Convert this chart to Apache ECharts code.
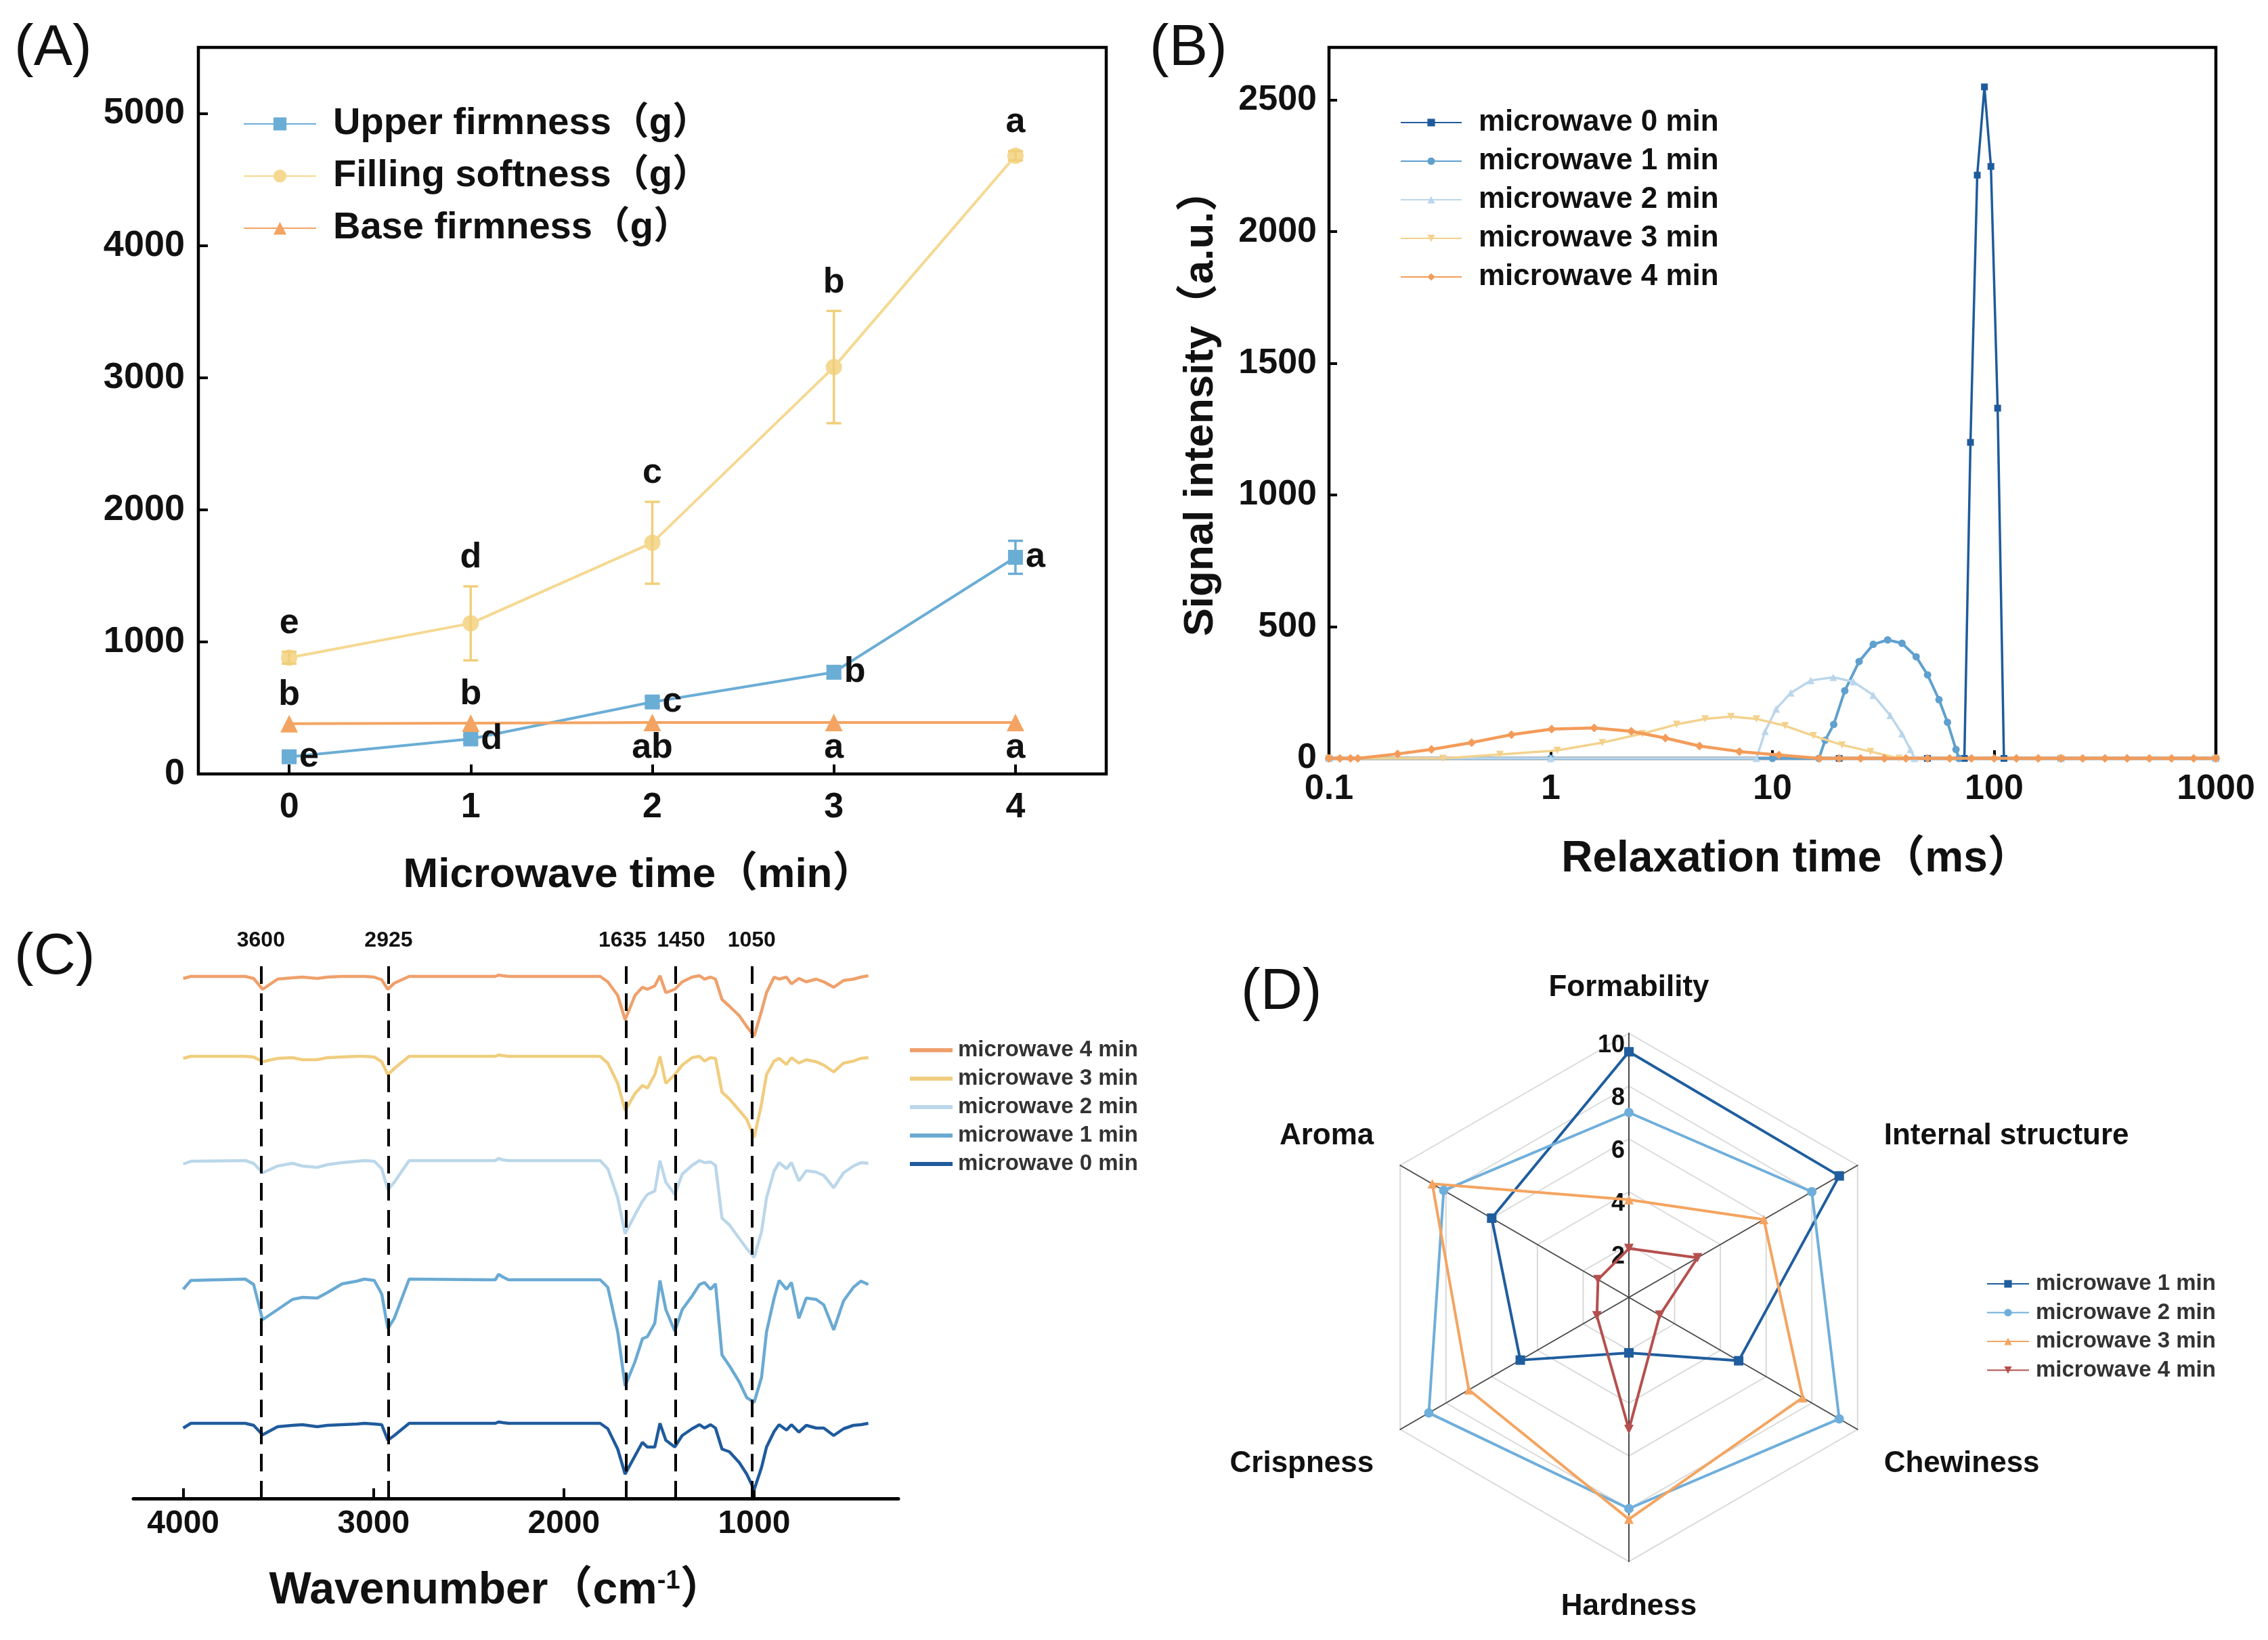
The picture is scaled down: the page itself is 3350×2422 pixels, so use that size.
<!DOCTYPE html>
<html><head><meta charset="utf-8">
<script src="https://cdn.jsdelivr.net/npm/echarts@6/dist/echarts.min.js"></script>
<style>html,body{margin:0;padding:0;background:#fff}#c{width:3350px;height:2422px}</style>
</head><body><div id="c"></div>
<script>
// ---------------- Panel A data ----------------
const aTimes = ['0', '1', '2', '3', '4'];
const aNames = ['Upper firmness（g）', 'Filling softness（g）', 'Base firmness（g）'];
const aUpper = [130, 265, 545, 770, 1640];
const aUpperErr = [25, 30, 35, 45, 125];
const aUpperLetters = ['e', 'd', 'c', 'b', 'a'];
const aFilling = [880, 1140, 1750, 3080, 4680];
const aFillingErr = [45, 280, 310, 425, 35];
const aFillingLetters = ['e', 'd', 'c', 'b', 'a'];
const aBase = [380, 385, 390, 390, 390];
const aBaseErr = [0, 0, 0, 0, 0];
const aBaseLetters = ['b', 'b', 'ab', 'a', 'a'];

// ---------------- Panel B data (relaxation time ms, signal) ----------------
const bNames = ['microwave 0 min', 'microwave 1 min', 'microwave 2 min', 'microwave 3 min', 'microwave 4 min'];
const b0 = [[0.1, 0], [20, 0], [50, 0], [73.4, 0], [78.2, 1200], [83.9, 2215], [90.4, 2550], [96.7, 2248], [103.7, 1330], [110.7, 0], [200, 0], [1000, 0]];
const b1 = [[0.1, 0], [1, 0], [10, 0], [16.2, 0], [17.3, 69], [18.9, 129], [21.2, 257], [24.6, 368], [28.5, 433], [33.1, 450], [38.4, 437], [44.5, 386], [50.1, 317], [56.4, 223], [61.6, 137], [67.3, 34], [69.3, 0], [200, 0], [1000, 0]];
const b2 = [[0.1, 0], [1, 0], [8.47, 0], [9.27, 103], [10.4, 188], [12.1, 249], [14.9, 296], [18.8, 308], [23.2, 291], [28.5, 240], [34.0, 163], [38.4, 94], [41.9, 34], [43.7, 0], [200, 0], [1000, 0]];
const b3 = [[0.1, 0], [0.327, 0], [0.59, 15], [1.07, 30], [1.71, 60], [2.59, 94], [3.70, 129], [4.97, 150], [6.50, 159], [8.47, 150], [11.4, 124], [15.3, 86], [20.6, 51], [27.7, 26], [37.2, 0], [200, 0], [1000, 0]];
const b4 = [[0.1, 0], [0.112, 0], [0.125, 0], [0.135, 0], [0.204, 17], [0.29, 34], [0.44, 60], [0.665, 90], [1.01, 111], [1.57, 116], [2.31, 103], [3.29, 77], [4.69, 47], [7.1, 26], [10.7, 13], [16.3, 0],
  [20, 0], [25, 0], [32, 0], [40, 0], [50, 0], [63, 0], [79, 0], [100, 0], [126, 0], [158, 0], [200, 0], [251, 0], [316, 0], [398, 0], [501, 0], [631, 0], [794, 0], [1000, 0]];

// ---------------- Panel C data (FTIR) ----------------
const cNames = ['microwave 4 min', 'microwave 3 min', 'microwave 2 min', 'microwave 1 min', 'microwave 0 min'];
const cTickValues = [1000, 2000, 3000, 4000];
const cPeakPos = [3592, 2921, 1674, 1413, 1013];
const cPeakLabels = ['3600', '2925', '1635', '1450', '1050'];
const cWn = [4000, 3960, 3674, 3630, 3583, 3504, 3426, 3374, 3296, 3243, 3165, 3087, 3048, 2996, 2957, 2925, 2891, 2813, 2409, 2360,
  2343, 2320, 2291, 1809, 1769, 1717, 1678, 1626, 1587, 1561, 1522, 1495, 1464, 1417, 1378, 1326, 1287, 1261, 1229, 1203,
  1169, 1130, 1078, 1039, 1000, 961, 935, 895, 869, 830, 804, 765, 726, 674, 634, 582, 530, 478, 439, 400];
// absorption depth below each trace's baseline
const cDepth0 = [7,0,0,3,17, 5,3,2,5,3, 2,1,0,1,2, 25,18,0,0,0, -2,-1,0,0,8, 38,75,48,28,35, 35,0,25,35,18, 8,2,7,2,7, 38,42,58,75,98, 65,35,12,2,10, 2,13,3,7,7, 18,8,3,2,0];
const cDepth1 = [15,2,0,8,60, 45,30,27,28,20, 7,3,0,2,22, 73,58,0,1,1, -7,-3,1,1,12, 78,158,122,88,85, 65,2,45,77,45, 25,8,5,15,7, 112,128,152,175,182, 145,78,28,2,15, 5,58,28,30,38, 75,32,12,3,8];
const cDepth2 = [5,1,0,4,18, 8,4,8,10,6, 3,1,0,1,12, 43,32,0,0,0, -3,-1,0,0,12, 55,108,80,60,50, 45,0,32,50,20, 7,0,3,2,7, 85,95,115,130,143, 105,55,15,3,12, 3,30,15,17,22, 40,18,8,3,4];
const cDepth3 = [3,0,0,1,8, 3,2,5,5,2, 1,0,0,1,8, 27,18,0,0,0, -2,-1,0,0,10, 40,80,55,43,47, 27,0,40,27,13, 2,0,7,2,3, 53,63,80,93,120, 70,27,7,3,12, 2,10,5,8,13, 23,10,7,3,2];
const cDepth4 = [3,0,0,3,19, 4,2,1,3,1, 0,0,0,1,5, 19,10,0,0,0, -2,-1,0,0,8, 28,64,28,16,19, 14,-1,24,19,8, 1,-1,4,1,4, 34,44,58,74,88, 51,24,1,4,1, 11,3,8,4,8, 16,6,4,1,-1];
const cOffsets = [111, 324, 499, 653, 771]; // 0,1,2,3,4 min

// ---------------- Panel D data (sensory radar) ----------------
const dIndicators = ['Formability', 'Aroma', 'Crispness', 'Hardness', 'Chewiness', 'Internal structure'];
const dNames = ['microwave 1 min', 'microwave 2 min', 'microwave 3 min', 'microwave 4 min'];
const d1 = [9.3, 6.0, 4.75, 2.1, 4.8, 9.2];
const d2 = [7.0, 8.1, 8.75, 8.0, 9.2, 8.0];
const d3 = [3.7, 8.6, 7.0, 8.4, 7.6, 5.9];
const d4 = [1.85, 1.35, 1.4, 5.0, 1.35, 3.0];

// ---------------- styles ----------------
const FF = "'Liberation Sans', Arial, 'Noto Sans CJK SC', sans-serif";
const TXT = '#111';
const colA = ['#6AADD5', '#F5D891', '#F3A462'];
const colB = ['#1F5B9C', '#5FA0CE', '#BBD6EB', '#F3D28E', '#F39C5A'];
const colC = { 0: '#1F5B9C', 1: '#6AAAD3', 2: '#BBD7EA', 3: '#F0CD7E', 4: '#EFA06B' };
const colD = ['#1F5D9E', '#6FAEDA', '#F4A460', '#B5504E'];
const downTri = 'path://M0,0L10,0L5,9Z';

function errSeries(vals, errs, letters, places, color) {
  return {
    type: 'custom', xAxisIndex: 0, yAxisIndex: 0, z: 4, silent: true,
    data: vals.map((v, i) => [i, v, errs[i]]),
    renderItem: function (params, api) {
      const i = api.value(0), v = api.value(1), e = api.value(2);
      const idx = params.dataIndex;
      const p = api.coord([i, v]);
      const top = api.coord([i, v + e]);
      const bot = api.coord([i, v - e]);
      const cap = 11;
      const ch = [];
      if (e > 0) {
        const st = { stroke: color, lineWidth: 3.5 };
        ch.push({ type: 'line', shape: { x1: p[0], y1: top[1], x2: p[0], y2: bot[1] }, style: st });
        ch.push({ type: 'line', shape: { x1: p[0] - cap, y1: top[1], x2: p[0] + cap, y2: top[1] }, style: st });
        ch.push({ type: 'line', shape: { x1: p[0] - cap, y1: bot[1], x2: p[0] + cap, y2: bot[1] }, style: st });
      }
      const pl = places[idx];
      let tx = p[0], ty = p[1], al = 'center';
      if (pl === 'above') { ty = top[1] - 42; }
      else if (pl === 'right') { tx = p[0] + 15; al = 'left'; }
      else if (pl === 'top') { ty = p[1] - 42; }
      else { ty = p[1] + 38; }
      ch.push({ type: 'text', style: { text: letters[idx], x: tx, y: ty, align: al, verticalAlign: 'middle', fontSize: 52, fontWeight: 'bold', fontFamily: FF, fill: TXT } });
      return { type: 'group', children: ch };
    }
  };
}

const chart = echarts.init(document.getElementById('c'), null, { renderer: 'canvas', width: 3350, height: 2422 });

const legendFmt = n => n.replace(/^[CD]\|/, '');
const boldTxt = (s, extra) => Object.assign({ fontSize: s, fontWeight: 'bold', color: TXT, fontFamily: FF }, extra || {});

const cSeries = [0, 1, 2, 3, 4].map(k => {
  const depth = [cDepth0, cDepth1, cDepth2, cDepth3, cDepth4][k];
  const s = {
    type: 'line', name: 'C|microwave ' + k + ' min', xAxisIndex: 2, yAxisIndex: 2,
    data: cWn.map((w, i) => [w, cOffsets[k] - depth[i]]),
    symbol: 'none', lineStyle: { width: 4.5, color: colC[k] }, itemStyle: { color: colC[k] }, z: 3, silent: true
  };
  if (k === 0) {
    const labOff = [0, 0, -5, 8, 0];
    s.markLine = {
      silent: true, symbol: ['none', 'none'], animation: false,
      lineStyle: { color: '#000', width: 4, type: [26, 14] },
      label: { show: true, position: 'end', formatter: p => p.name, distance: 8, fontSize: 32, fontWeight: 'bold', color: TXT, fontFamily: FF },
      data: cPeakPos.map((x, i) => ({ xAxis: x, name: cPeakLabels[i], label: { offset: [labOff[i], 0] } }))
    };
  }
  return s;
});

const bSeries = [b0, b1, b2, b3, b4].map((d, k) => ({
  type: 'line', name: bNames[k], xAxisIndex: 1, yAxisIndex: 1, data: d,
  symbol: ['rect', 'circle', 'triangle', downTri, 'diamond'][k],
  symbolSize: [10, 11, 11, 11, 13][k],
  showAllSymbol: true,
  lineStyle: { width: [3.5, 4, 3.5, 3.5, 4.5][k], color: colB[k] }, itemStyle: { color: colB[k] }, z: 3 + k
}));

const dSym = ['rect', 'circle', 'triangle', downTri];
const dDummy = dNames.map((n, k) => ({
  type: 'line', name: 'D|' + n, xAxisIndex: 1, yAxisIndex: 1, data: [],
  symbol: dSym[k], symbolSize: 14, lineStyle: { width: 4, color: colD[k] }, itemStyle: { color: colD[k] }
}));

// radar axis-name nudge: upper side names sit a little higher, lower side ones lower
const dNameTag = { 'Aroma': 'up', 'Internal structure': 'up', 'Crispness': 'dn', 'Chewiness': 'dn' };

const option = {
  animation: false,
  backgroundColor: '#ffffff',
  textStyle: { fontFamily: FF },
  graphic: [
    { type: 'text', x: 21, y: 72, style: { text: '(A)', fontSize: 86, fontFamily: FF, fill: TXT, verticalAlign: 'middle' } },
    { type: 'text', x: 1698, y: 72, style: { text: '(B)', fontSize: 86, fontFamily: FF, fill: TXT, verticalAlign: 'middle' } },
    { type: 'text', x: 21, y: 1414, style: { text: '(C)', fontSize: 86, fontFamily: FF, fill: TXT, verticalAlign: 'middle' } },
    { type: 'text', x: 1833, y: 1466, style: { text: '(D)', fontSize: 86, fontFamily: FF, fill: TXT, verticalAlign: 'middle' } }
  ],
  grid: [
    { left: 293, top: 70, width: 1341, height: 1073, show: true, borderColor: '#000', borderWidth: 4.5, backgroundColor: 'transparent' },
    { left: 1963, top: 70, width: 1310, height: 1050, show: true, borderColor: '#000', borderWidth: 4.5, backgroundColor: 'transparent' },
    { left: 197, top: 1413, width: 1130, height: 800 }
  ],
  xAxis: [
    { gridIndex: 0, type: 'category', data: aTimes, boundaryGap: true,
      axisLine: { show: false }, axisTick: { show: true, alignWithLabel: true, inside: true, length: 14, lineStyle: { color: '#000', width: 4 } },
      axisLabel: boldTxt(52, { margin: 24 }), splitLine: { show: false },
      name: 'Microwave time（min）', nameLocation: 'middle', nameGap: 119, nameTextStyle: boldTxt(62, { padding: [0, 40, 0, 0] }) },
    { gridIndex: 1, type: 'log', logBase: 10, min: 0.1, max: 1000,
      axisLine: { show: false }, axisTick: { show: true, inside: true, length: 12, lineStyle: { color: '#000', width: 4 } },
      minorTick: { show: false }, splitLine: { show: false },
      axisLabel: boldTxt(52, { margin: 20, formatter: v => String(+(+v).toPrecision(3)) }),
      name: 'Relaxation time（ms）', nameLocation: 'middle', nameGap: 117, nameTextStyle: boldTxt(64, { padding: [0, 0, 0, 70] }) },
    { gridIndex: 2, type: 'value', inverse: true, min: 242, max: 4262,
      axisLine: { show: true, lineStyle: { color: '#000', width: 5 } },
      axisTick: { show: true, inside: true, length: 15, customValues: cTickValues, lineStyle: { color: '#000', width: 4 } },
      axisLabel: boldTxt(48, { margin: 14, customValues: cTickValues, formatter: v => String(v) }), splitLine: { show: false },
      name: '{a|Wavenumber（cm}{s|-1}{a|）}', nameLocation: 'middle', nameGap: 104,
      nameTextStyle: { padding: [0, 56, 0, 0], rich: { a: boldTxt(66), s: boldTxt(38, { padding: [0, 0, 28, 0] }) } } }
  ],
  yAxis: [
    { gridIndex: 0, type: 'value', min: 0, max: 5500, interval: 1000,
      axisLine: { show: false }, axisTick: { show: true, inside: true, length: 14, lineStyle: { color: '#000', width: 4 } },
      axisLabel: boldTxt(54, { margin: 20, showMaxLabel: false, formatter: v => (v % 1000 === 0 ? String(v) : '') }), splitLine: { show: false } },
    { gridIndex: 1, type: 'value', min: 0, max: 2700, interval: 500,
      axisLine: { show: false }, axisTick: { show: true, inside: true, length: 12, lineStyle: { color: '#000', width: 4 } },
      axisLabel: boldTxt(52, { margin: 18, showMaxLabel: false, formatter: v => (v % 500 === 0 ? String(v) : '') }), splitLine: { show: false },
      name: 'Signal intensity（a.u.）', nameLocation: 'middle', nameGap: 158, nameTextStyle: boldTxt(62) },
    { gridIndex: 2, type: 'value', min: 0, max: 800, show: false }
  ],
  radar: {
    center: [2406, 1916], radius: 390, startAngle: 90, splitNumber: 5, shape: 'polygon',
    indicator: dIndicators.map((n, i) => {
      const o = { name: n, min: 0, max: 10 };
      if (i === 0) o.axisLabel = { show: true, showMinLabel: false, fontSize: 36, fontWeight: 'bold', color: TXT, fontFamily: FF, margin: 6, verticalAlign: 'top', formatter: v => (v === 0 ? '' : String(v)) };
      return o;
    }),
    axisName: {
      color: TXT, fontSize: 44, fontWeight: 'bold', fontFamily: FF,
      formatter: n => (dNameTag[n] ? '{' + dNameTag[n] + '|' + n + '}' : n),
      rich: {
        up: { color: TXT, fontSize: 44, fontWeight: 'bold', fontFamily: FF, padding: [0, 0, 42, 0] },
        dn: { color: TXT, fontSize: 44, fontWeight: 'bold', fontFamily: FF, padding: [56, 0, 0, 0] }
      }
    },
    nameGap: 45,
    splitLine: { lineStyle: { color: '#d9d9d9', width: 2 } },
    splitArea: { show: false },
    axisLine: { lineStyle: { color: '#4a4a4a', width: 2 } },
    axisTick: { show: false },
    axisLabel: { show: false }
  },
  legend: [
    { data: aNames, left: 359, top: 153, orient: 'vertical', itemWidth: 107, itemHeight: 24, itemGap: 17, padding: 0, selectedMode: false,
      textStyle: boldTxt(56, { lineHeight: 60, padding: [0, 0, 0, 20] }) },
    { data: bNames, left: 2068, top: 157, orient: 'vertical', itemWidth: 90, itemHeight: 14, itemGap: 9, padding: 0, selectedMode: false,
      textStyle: boldTxt(44, { lineHeight: 48, padding: [0, 0, 0, 20] }) },
    { data: cNames.map(n => 'C|' + n), formatter: legendFmt, icon: 'rect', left: 1344, top: 1533, orient: 'vertical', itemWidth: 63, itemHeight: 6, itemGap: 6, padding: 0, selectedMode: false,
      textStyle: boldTxt(33, { lineHeight: 36, color: '#333', padding: [0, 0, 0, 3] }) },
    { data: dNames.map(n => 'D|' + n), formatter: legendFmt, left: 2934, top: 1878, orient: 'vertical', itemWidth: 62, itemHeight: 14, itemGap: 6.5, padding: 0, selectedMode: false,
      textStyle: boldTxt(33, { lineHeight: 36, color: '#333', padding: [0, 0, 0, 5] }) }
  ],
  series: [
    { type: 'line', name: aNames[0], xAxisIndex: 0, yAxisIndex: 0, data: aUpper, symbol: 'rect', symbolSize: 22, lineStyle: { width: 4, color: colA[0] }, itemStyle: { color: colA[0] }, z: 3 },
    { type: 'line', name: aNames[1], xAxisIndex: 0, yAxisIndex: 0, data: aFilling, symbol: 'circle', symbolSize: 24, lineStyle: { width: 4, color: colA[1] }, itemStyle: { color: colA[1] }, z: 3 },
    { type: 'line', name: aNames[2], xAxisIndex: 0, yAxisIndex: 0, data: aBase, symbol: 'triangle', symbolSize: 26, lineStyle: { width: 4, color: colA[2] }, itemStyle: { color: colA[2] }, z: 3 },
    errSeries(aUpper, aUpperErr, aUpperLetters, ['right', 'right', 'right', 'right', 'right'], colA[0]),
    errSeries(aFilling, aFillingErr, aFillingLetters, ['above', 'above', 'above', 'above', 'above'], '#F0CF7A'),
    errSeries(aBase, aBaseErr, aBaseLetters, ['top', 'top', 'bottom', 'bottom', 'bottom'], colA[2]),
    ...bSeries,
    ...cSeries,
    ...dDummy,
    { type: 'radar', radarIndex: 0, z: 3, silent: true,
      data: [d1, d2, d3, d4].map((v, k) => ({
        name: 'D|' + dNames[k], value: v, symbol: dSym[k], symbolSize: 14,
        itemStyle: { color: colD[k] }, lineStyle: { color: colD[k], width: 4 }
      })) }
  ]
};
chart.setOption(option);
</script></body></html>
